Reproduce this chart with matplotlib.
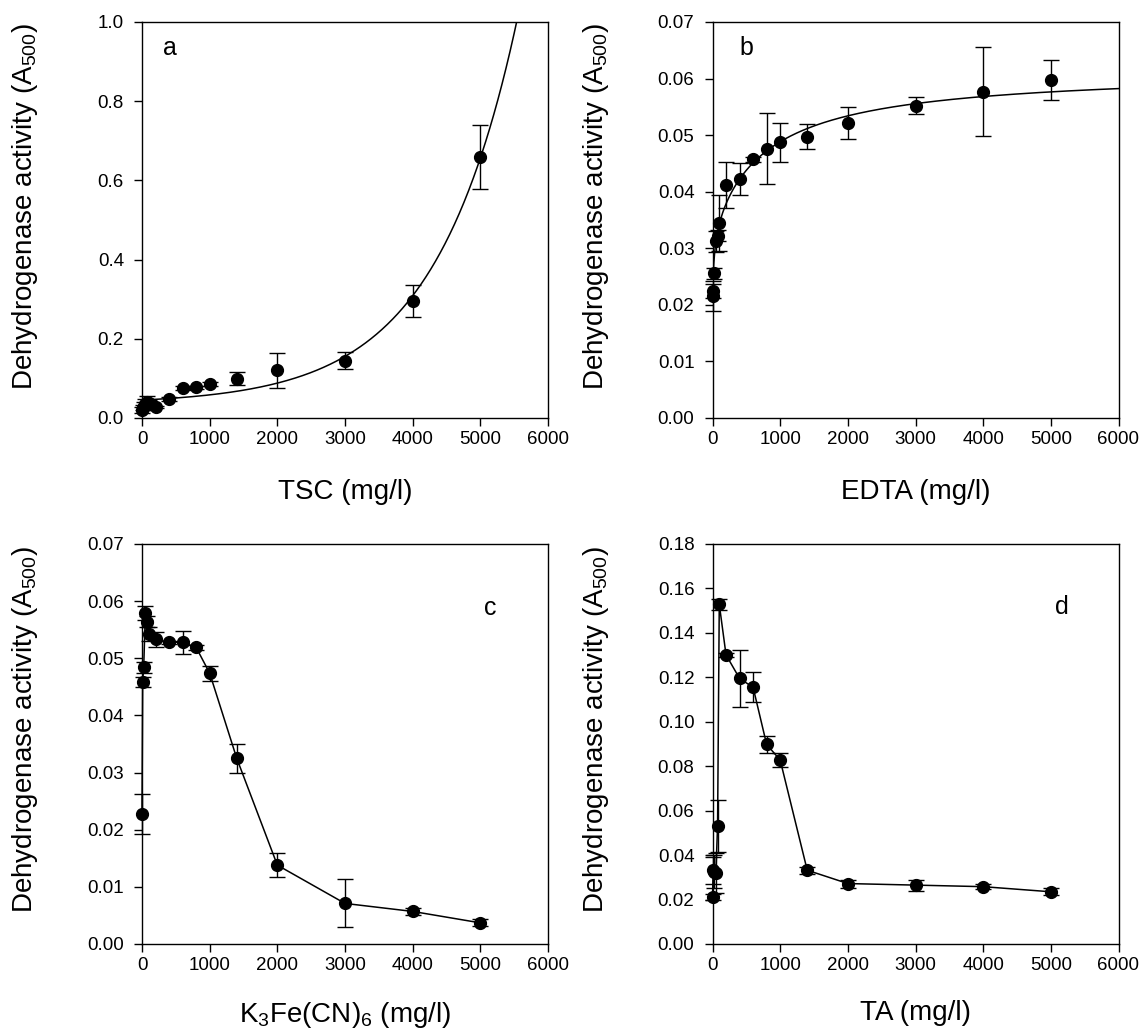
import numpy as np
import matplotlib
matplotlib.use("Agg")
import matplotlib.pyplot as plt

plt.rcParams['font.family'] = ['Liberation Sans', 'DejaVu Sans']
plt.rcParams['mathtext.fontset'] = 'custom'
plt.rcParams['mathtext.rm'] = 'Liberation Sans'
plt.rcParams['mathtext.default'] = 'regular'

# concentrations (mg/l), shared by all four panels
conc = [0, 10, 25, 50, 75, 100, 200, 400, 600, 800, 1000, 1400, 2000, 3000, 4000, 5000]

# a: TSC
tsc_y = [0.020, 0.026, 0.030, 0.036, 0.040, 0.038, 0.028, 0.048, 0.076, 0.078, 0.086, 0.099, 0.120, 0.145, 0.295, 0.660]
tsc_err = [0.008, 0.006, 0.010, 0.012, 0.015, 0.008, 0.003, 0.004, 0.005, 0.004, 0.006, 0.016, 0.045, 0.022, 0.040, 0.081]
# exponential growth fit  y = y0 + a*exp(b*x)
tsc_fit = dict(y0=0.035, a=0.0103, b=0.00082)

# b: EDTA
edta_y = [0.0216, 0.0225, 0.0256, 0.0312, 0.0322, 0.0345, 0.0412, 0.0422, 0.0457, 0.0476, 0.0487, 0.0497, 0.0521, 0.0552, 0.0577, 0.0597]
edta_err = [0.0027, 0.0012, 0.0010, 0.0018, 0.0010, 0.0050, 0.0040, 0.0028, 0.0004, 0.0063, 0.0035, 0.0022, 0.0028, 0.0015, 0.0078, 0.0035]
# two-site hyperbola fit
edta_fit = dict(y0=0.022, a1=0.012, b1=30.0, a2=0.0276, b2=818.0)

# c: K3Fe(CN)6
fcn_y = [0.0228, 0.0459, 0.0484, 0.0579, 0.0564, 0.0542, 0.0533, 0.0528, 0.0528, 0.0519, 0.0474, 0.0325, 0.0138, 0.0071, 0.0057, 0.0037]
fcn_err = [0.0035, 0.0009, 0.0010, 0.0012, 0.0010, 0.0012, 0.0013, 0.0003, 0.0020, 0.0005, 0.0013, 0.0025, 0.0021, 0.0042, 0.0006, 0.0006]

# d: TA
ta_y = [0.0211, 0.0332, 0.0325, 0.0321, 0.0531, 0.1529, 0.1301, 0.1195, 0.1155, 0.0898, 0.0828, 0.0332, 0.0272, 0.0265, 0.0258, 0.0235]
ta_err = [0.0012, 0.0060, 0.0075, 0.0090, 0.0115, 0.0025, 0.0010, 0.0128, 0.0068, 0.0040, 0.0033, 0.0015, 0.0018, 0.0025, 0.0010, 0.0015]

ylabel = 'Dehydrogenase activity (A$_{500}$)'

fig = plt.figure(figsize=(11.43, 10.36), dpi=100)
W, H = 1143.0, 1036.0

def make_ax(left, top, right, bottom):
    return fig.add_axes([left / W, 1 - bottom / H, (right - left) / W, (bottom - top) / H])

ax_a = make_ax(142, 22, 548, 418)
ax_b = make_ax(712.5, 22, 1118.5, 418)
ax_c = make_ax(142, 544, 548, 944)
ax_d = make_ax(712.5, 544, 1118.5, 944)


def style(ax, ymax, ystep, fmt, xlabel, xly, letter, lx, ly):
    ax.set_xlim(0, 6000)
    ax.set_ylim(0, ymax)
    ax.set_xticks(np.arange(0, 6001, 1000))
    yt = np.arange(0, ymax + ystep / 2, ystep)
    ax.set_yticks(yt)
    ax.set_yticklabels([fmt % v for v in yt])
    ax.tick_params(direction='out', top=False, right=False, length=6, width=1,
                   labelsize=13.5)
    ax.tick_params(axis='y', pad=7)
    ax.tick_params(axis='x', pad=3)
    for s in ax.spines.values():
        s.set_linewidth(1)
    ax.set_ylabel(ylabel, fontsize=20)
    ax.yaxis.set_label_coords(-0.25, 0.535)
    ax.set_xlabel(xlabel, fontsize=20)
    ax.xaxis.set_label_coords(0.5, xly)
    ax.text(lx, ly, letter, transform=ax.transAxes, fontsize=18, ha='center', va='center')


def points(ax, y, err, line=False):
    eb = ax.errorbar(conc, y, yerr=err, fmt='none', ecolor='black', elinewidth=1,
                     capsize=5.5, capthick=1, clip_on=False, zorder=2)
    for art in eb.get_children():
        art.set_clip_on(False)
    ax.plot(conc, y, 'o', color='black', markersize=8.5, ls='-' if line else 'none',
            lw=1.1, clip_on=False, zorder=3)


xs = np.linspace(0, 6000, 600)

# a
points(ax_a, tsc_y, tsc_err)
ax_a.plot(xs, tsc_fit['y0'] + tsc_fit['a'] * np.exp(tsc_fit['b'] * xs), color='black', lw=1.1)
style(ax_a, 1.0, 0.2, '%.1f', 'TSC (mg/l)', -0.155, 'a', 0.069, 0.934)

# b
points(ax_b, edta_y, edta_err)
p = edta_fit
ax_b.plot(xs, p['y0'] + p['a1'] * xs / (p['b1'] + xs) + p['a2'] * xs / (p['b2'] + xs),
          color='black', lw=1.1)
style(ax_b, 0.07, 0.01, '%.2f', 'EDTA (mg/l)', -0.155, 'b', 0.0825, 0.934)

# c
points(ax_c, fcn_y, fcn_err, line=True)
style(ax_c, 0.07, 0.01, '%.2f', 'K$_3$Fe(CN)$_6$ (mg/l)', -0.14, 'c', 0.857, 0.84)

# d
points(ax_d, ta_y, ta_err, line=True)
style(ax_d, 0.18, 0.02, '%.2f', 'TA (mg/l)', -0.14, 'd', 0.861, 0.8425)

fig.savefig('out.png', dpi=100)
